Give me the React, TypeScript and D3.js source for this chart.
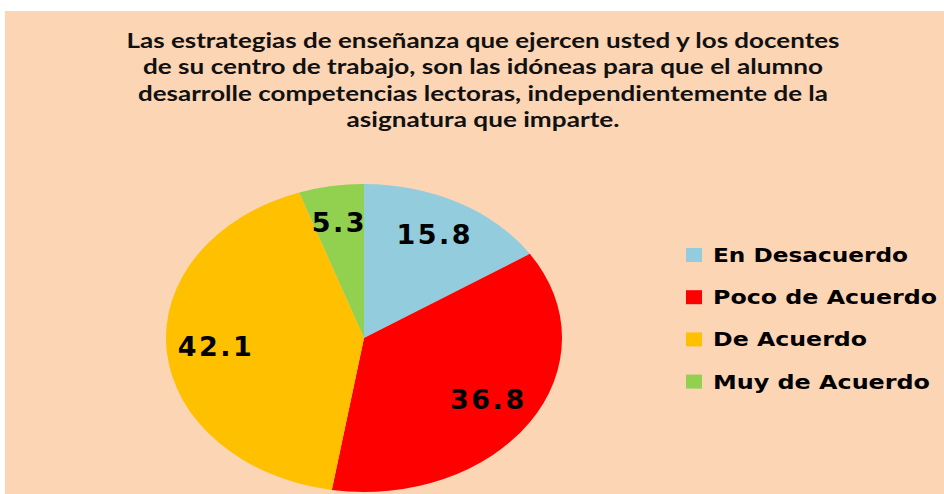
import React from "react";
import * as d3 from "d3";

const categories = ["En Desacuerdo", "Poco de Acuerdo", "De Acuerdo", "Muy de Acuerdo"];
const values = [15.8, 36.8, 42.1, 5.3];
const colors = ["#93CDDD", "#FF0000", "#FFC000", "#92D050"];
const titleLines = [
  "Las estrategias de enseñanza que ejercen usted y los docentes",
  "de su centro de trabajo, son las idóneas para que el alumno",
  "desarrolle competencias lectoras, independientemente de la",
  "asignatura que imparte.",
];
const titleWidths = [713, 680, 690, 273];
const legendWidths = [195, 224, 154, 217];

const W = 944;
const H = 494;
const cx = 364;
const cy = 338;
const rx = 198;
const ry = 154;

export default function App() {
  const pie = d3.pie<number>().sort(null).value((d) => d);
  const arcs = pie(values);
  const arc = d3.arc<d3.PieArcDatum<number>>().innerRadius(0).outerRadius(rx);
  const labelArc = d3.arc<d3.PieArcDatum<number>>().innerRadius(rx * 0.75).outerRadius(rx * 0.75);
  const sy = ry / rx;

  return (
    <svg
      width={W}
      height={H}
      style={{ position: "absolute", left: 0, top: 0, background: "#fff" }}
    >
      <rect x={5} y={11} width={W - 5} height={H - 11} fill="#FCD5B5" />
      {titleLines.map((t, i) => (
        <text
          key={i}
          x={483}
          y={48 + i * 26.3}
          textAnchor="middle"
          fontFamily="Lato, 'Open Sans', sans-serif"
          fontWeight="bold"
          fontSize={20}
          fill="#111"
          textLength={titleWidths[i]}
          lengthAdjust="spacingAndGlyphs"
        >
          {t}
        </text>
      ))}
      <g transform={`translate(${cx},${cy}) scale(1,${sy})`}>
        {arcs.map((a, i) => (
          <path key={i} d={arc(a) || ""} fill={colors[i]} />
        ))}
      </g>
      {arcs.map((a, i) => {
        const [lx, ly] = labelArc.centroid(a);
        return (
          <text
            key={i}
            x={cx + lx}
            y={cy + ly * sy + 8}
            textAnchor="middle"
            fontFamily="'DejaVu Sans', Verdana, sans-serif"
            fontWeight="bold"
            fontSize={27}
            letterSpacing={2.5}
            fill="#000"
          >
            {values[i].toFixed(1)}
          </text>
        );
      })}
      {categories.map((c, i) => (
        <g key={i} transform={`translate(686,${248 + i * 42.2})`}>
          <rect x={0} y={0} width={16} height={14} fill={colors[i]} />
          <text
            x={27}
            y={14}
            fontFamily="'DejaVu Sans', Verdana, sans-serif"
            fontWeight="bold"
            fontSize={20}
            fill="#000"
            textLength={legendWidths[i]}
            lengthAdjust="spacingAndGlyphs"
          >
            {c}
          </text>
        </g>
      ))}
    </svg>
  );
}
